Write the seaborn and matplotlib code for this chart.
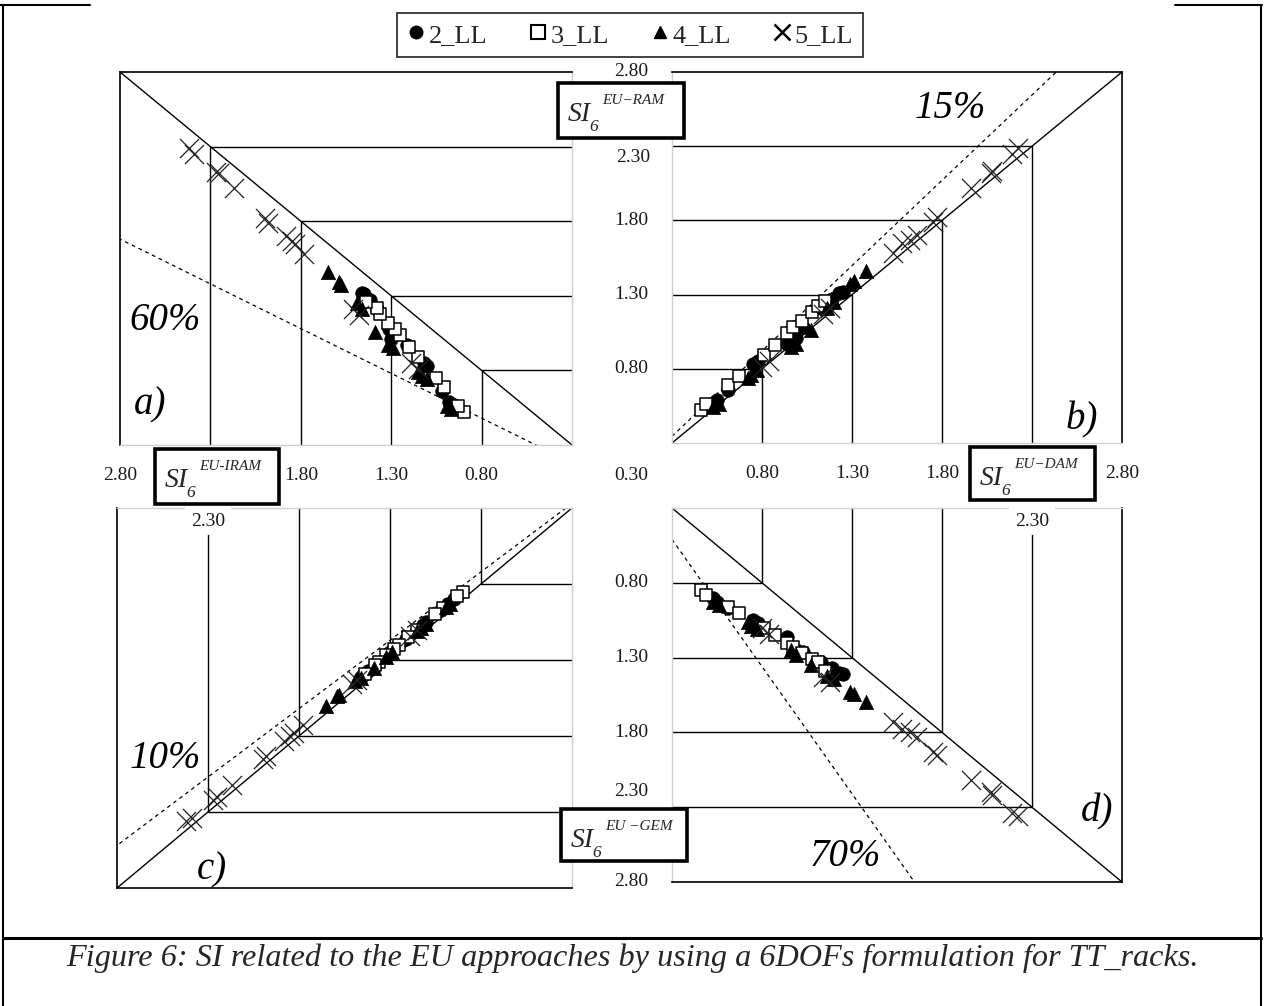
import pandas as pd
import seaborn as sns
import matplotlib.pyplot as plt
from matplotlib.lines import Line2D
from matplotlib.patches import Rectangle
from matplotlib.transforms import blended_transform_factory

W, H = 1264, 1006

# SI6 values per load level
series = ['2_LL', '3_LL', '4_LL', '5_LL']

dam_2 = [0.53, 0.55, 0.61, 0.75, 0.78, 0.94, 0.99, 1.03, 1.13, 1.19, 1.23, 1.25]
ram_2 = [0.57, 0.59, 0.66, 0.83, 0.85, 0.97, 1.01, 1.08, 1.21, 1.27, 1.31, 1.32]
gem_2 = [0.90, 0.93, 0.97, 1.05, 1.07, 1.16, 1.25, 1.26, 1.33, 1.37, 1.40, 1.41]
iram_2 = [0.95, 0.98, 1.02, 1.10, 1.12, 1.21, 1.30, 1.31, 1.38, 1.42, 1.45, 1.46]

dam_3 = [0.46, 0.49, 0.61, 0.67, 0.81, 0.87, 0.94, 0.97, 1.02, 1.08, 1.11, 1.15]
ram_3 = [0.52, 0.56, 0.69, 0.75, 0.89, 0.96, 1.04, 1.08, 1.12, 1.18, 1.22, 1.26]
gem_3 = [0.85, 0.88, 0.96, 1.00, 1.10, 1.15, 1.20, 1.23, 1.27, 1.31, 1.33, 1.39]
iram_3 = [0.90, 0.93, 1.01, 1.05, 1.15, 1.20, 1.25, 1.28, 1.32, 1.36, 1.38, 1.44]

dam_4 = [0.53, 0.56, 0.72, 0.74, 0.77, 0.96, 0.99, 1.07, 1.16, 1.20, 1.29, 1.31, 1.38]
ram_4 = [0.54, 0.56, 0.74, 0.76, 0.79, 0.95, 0.97, 1.06, 1.21, 1.25, 1.37, 1.39, 1.46]
gem_4 = [0.93, 0.95, 1.06, 1.09, 1.11, 1.25, 1.28, 1.35, 1.42, 1.44, 1.53, 1.54, 1.60]
iram_4 = [0.97, 0.99, 1.10, 1.13, 1.15, 1.29, 1.32, 1.39, 1.46, 1.49, 1.58, 1.59, 1.65]

dam_5 = [0.80, 0.84, 1.14, 1.18, 1.53, 1.58, 1.62, 1.66, 1.75, 1.77, 1.96, 2.07, 2.08, 2.19, 2.22]
ram_5 = [0.81, 0.85, 1.17, 1.21, 1.58, 1.65, 1.67, 1.70, 1.79, 1.82, 2.02, 2.12, 2.13, 2.25, 2.29]
gem_5 = [1.10, 1.14, 1.43, 1.46, 1.73, 1.78, 1.80, 1.83, 1.93, 1.95, 2.12, 2.20, 2.22, 2.34, 2.36]
iram_5 = [1.15, 1.19, 1.48, 1.51, 1.78, 1.83, 1.85, 1.88, 1.98, 2.00, 2.17, 2.25, 2.27, 2.39, 2.42]

grid_vals = [0.8, 1.3, 1.8, 2.3]
lo, hi = 0.3, 2.8
ratios = [0.6, 1.15, 0.9, 1.7]
ratio_labels = ['60%', '15%', '10%', '70%']
panel_labels = ['a)', 'b)', 'c)', 'd)']

cols = {'2_LL': (dam_2, ram_2, gem_2, iram_2), '3_LL': (dam_3, ram_3, gem_3, iram_3),
        '4_LL': (dam_4, ram_4, gem_4, iram_4), '5_LL': (dam_5, ram_5, gem_5, iram_5)}
frames = []
for name in series:
    d, r, g, i = cols[name]
    frames.append(pd.DataFrame({'series': name, 'dam': d, 'ram': r, 'gem': g, 'iram': i}))
df = pd.concat(frames, ignore_index=True)

sns.set_style('white')
plt.rcParams['font.family'] = ['Liberation Serif', 'DejaVu Serif']

fig = plt.figure(figsize=(W / 100, H / 100), dpi=100)


def fx(x):
    return x / W


def fy(y):
    return 1 - y / H


def px_axes(x0, y0, x1, y1):
    return fig.add_axes([fx(x0), fy(y1), (x1 - x0) / W, (y1 - y0) / H])


ax_a = px_axes(120, 72, 572, 445)
ax_b = px_axes(672, 72, 1122, 443)
ax_c = px_axes(117, 508, 572, 888)
ax_d = px_axes(672, 508, 1122, 882)

ax_a.set_xlim(hi, lo); ax_a.set_ylim(lo, hi)
ax_b.set_xlim(lo, hi); ax_b.set_ylim(lo, hi)
ax_c.set_xlim(hi, lo); ax_c.set_ylim(hi, lo)
ax_d.set_xlim(lo, hi); ax_d.set_ylim(hi, lo)

outer = {ax_a: ('left', 'top'), ax_b: ('right', 'top'),
         ax_c: ('left', 'bottom'), ax_d: ('right', 'bottom')}

styles = {
    '2_LL': dict(marker='o', s=95, color='black', edgecolor='black', linewidth=0.5),
    '3_LL': dict(marker='s', s=80, color='white', edgecolor='black', linewidth=1.1),
    '4_LL': dict(marker='^', s=105, color='black', edgecolor='black', linewidth=0.5),
    '5_LL': dict(marker='x', s=190, color='#222222', linewidth=0.9),
}

quads = [(ax_a, 'iram', 'ram'), (ax_b, 'dam', 'ram'), (ax_c, 'iram', 'gem'), (ax_d, 'dam', 'gem')]

for k, (ax, xc, yc) in enumerate(quads):
    ax.set_xticks([]); ax.set_yticks([])
    for side, sp in ax.spines.items():
        sp.set_visible(True)
        if side in outer[ax]:
            sp.set_color('black'); sp.set_linewidth(1.2)
        else:
            sp.set_color('#cfcfcf'); sp.set_linewidth(1.0)
    ax.plot([lo, hi], [lo, hi], color='black', lw=1.0, zorder=1)
    for v in grid_vals:
        ax.plot([v, v, lo], [lo, v, v], color='black', lw=1.0, zorder=1)
    r = ratios[k]
    ax.plot([lo, hi], [r * lo, r * hi], color='black', lw=0.9, ls=(0, (3, 3)), zorder=1)
    for name in series:
        sns.scatterplot(data=df[df['series'] == name], x=xc, y=yc, ax=ax, legend=False,
                        zorder=3, **styles[name])
    ax.set_xlabel(''); ax.set_ylabel('')

# percentage and panel labels
big = dict(fontsize=28, style='italic', ha='center', va='center', color='black')
fig.text(fx(165), fy(320), ratio_labels[0], **big)
fig.text(fx(150), fy(405), panel_labels[0], **big)
fig.text(fx(950), fy(108), ratio_labels[1], **big)
fig.text(fx(1082), fy(420), panel_labels[1], **big)
fig.text(fx(165), fy(758), ratio_labels[2], **big)
fig.text(fx(212), fy(870), panel_labels[2], **big)
fig.text(fx(845), fy(856), ratio_labels[3], **big)
fig.text(fx(1097), fy(812), panel_labels[3], **big)

# value labels along the central cross
num = dict(fontsize=14, ha='center', va='center', color='#1a1a1a')
wbox = dict(fc='white', ec='none', pad=4)
tx_a = blended_transform_factory(ax_a.transData, fig.transFigure)
tx_b = blended_transform_factory(ax_b.transData, fig.transFigure)
ty_b = blended_transform_factory(fig.transFigure, ax_b.transData)
ty_d = blended_transform_factory(fig.transFigure, ax_d.transData)
for v in [2.8, 1.8, 1.3, 0.8]:
    ax_a.text(v, fy(475), f'{v:.2f}', transform=tx_a, **num)
    ax_b.text(v, fy(473), f'{v:.2f}', transform=tx_b, **num)
    ax_b.text(fx(631), v, f'{v:.2f}', transform=ty_b, **num)
    ax_d.text(fx(631), v, f'{v:.2f}', transform=ty_d, **num)
ax_c.text(2.3, fy(521), '2.30', transform=blended_transform_factory(ax_c.transData, fig.transFigure),
          bbox=wbox, zorder=6, **num)
ax_d.text(2.3, fy(521), '2.30', transform=blended_transform_factory(ax_d.transData, fig.transFigure),
          bbox=wbox, zorder=6, **num)
fig.text(fx(633), fy(158), '2.30', **num)
fig.text(fx(631), fy(792), '2.30', **num)
fig.text(fx(631), fy(475), '0.30', **num)


# SI6 boxes
def si_box(x0, y0, x1, y1, sup):
    fig.add_artist(Rectangle((fx(x0), fy(y1)), (x1 - x0) / W, (y1 - y0) / H,
                             transform=fig.transFigure, fc='white', ec='black', lw=2.6, zorder=10))
    fig.text(fx(x0 + 10), fy(y0 + 38), 'SI', fontsize=20, style='italic', va='baseline', zorder=11)
    fig.text(fx(x0 + 31), fy(y0 + 48), '6', fontsize=12.5, style='italic', va='baseline', zorder=11)
    fig.text(fx(x0 + 44), fy(y0 + 17), sup, fontsize=11, style='italic', va='center', zorder=11)


si_box(558, 83, 684, 138, 'EU\u2212RAM')
si_box(155, 449, 279, 504, 'EU-IRAM')
si_box(970, 447, 1095, 500, 'EU\u2212DAM')
si_box(561, 809, 687, 861, 'EU \u2212GEM')

# legend
handles = [
    Line2D([], [], ls='', marker='o', color='black', markersize=9),
    Line2D([], [], ls='', marker='s', mfc='white', mec='black', mew=1.5, markersize=10),
    Line2D([], [], ls='', marker='^', color='black', markersize=9),
    Line2D([], [], ls='', marker='x', color='black', mew=1.8, markersize=11),
]
leg = fig.legend(handles, series, loc='center', bbox_to_anchor=(fx(630), fy(35)), ncol=4,
                 frameon=True, fancybox=False, edgecolor='black', fontsize=19,
                 handlelength=0.7, handletextpad=0.15, columnspacing=1.55, borderpad=0.38)
leg.get_frame().set_linewidth(1.3)

# page frame and caption
line_kw = dict(transform=fig.transFigure, color='black')
fig.add_artist(Line2D([fx(3), fx(3)], [0, fy(5)], lw=1.5, **line_kw))
fig.add_artist(Line2D([fx(1261), fx(1261)], [0, fy(5)], lw=1.5, **line_kw))
fig.add_artist(Line2D([0, fx(90)], [fy(5), fy(5)], lw=1.5, **line_kw))
fig.add_artist(Line2D([fx(1175), fx(1262)], [fy(5), fy(5)], lw=1.5, **line_kw))
fig.add_artist(Line2D([fx(3), fx(1261)], [fy(938), fy(938)], lw=2.2, **line_kw))

fig.text(fx(632), fy(958), 'Figure 6: SI related to the EU approaches by using a 6DOFs formulation for TT_racks.',
         fontsize=23.2, style='italic', ha='center', va='center')

fig.savefig('out.png', dpi=100)
